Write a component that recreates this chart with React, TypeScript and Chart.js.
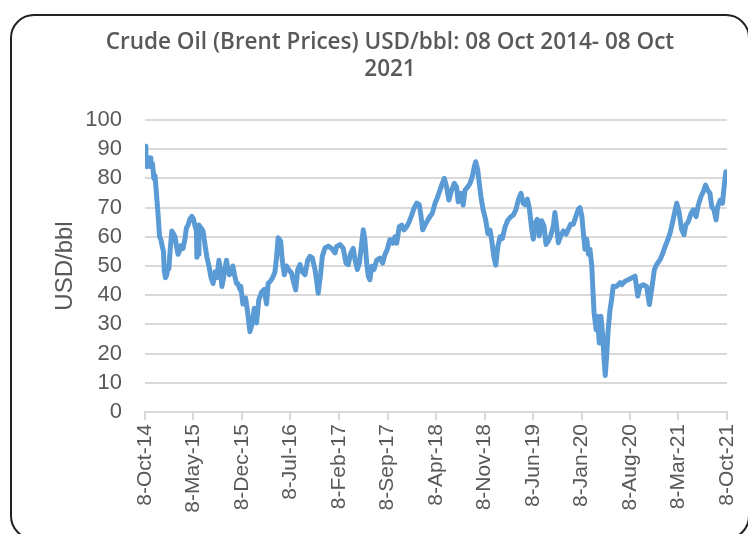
import React, { useEffect, useRef } from 'react';
import { Chart, registerables } from 'chart.js';

Chart.register(...registerables);

const TITLE_LINES = ['Crude Oil (Brent Prices) USD/bbl: 08 Oct 2014- 08 Oct', '2021'];
const Y_TITLE = 'USD/bbl';
const START_DATE = '2014-10-08';
const END_DATE = '2021-10-08';

const tickDates = [
  '2014-10-08', '2015-05-08', '2015-12-08', '2016-07-08', '2017-02-08', '2017-09-08', '2018-04-08',
  '2018-11-08', '2019-06-08', '2020-01-08', '2020-08-08', '2021-03-08', '2021-10-08',
];
const tickLabels = [
  '8-Oct-14', '8-May-15', '8-Dec-15', '8-Jul-16', '8-Feb-17', '8-Sep-17', '8-Apr-18',
  '8-Nov-18', '8-Jun-19', '8-Jan-20', '8-Aug-20', '8-Mar-21', '8-Oct-21',
];

const dates2014 = ['2014-10-08', '2014-10-12', '2014-10-17', '2014-10-23', '2014-10-30', '2014-11-03', '2014-11-10', '2014-11-16', '2014-11-21', '2014-11-30', '2014-12-06', '2014-12-11', '2014-12-17', '2014-12-22', '2014-12-28'];
const prices2014 = [91, 88, 84, 86, 87, 84, 85, 80, 81, 72, 66, 60, 59, 57, 55];

const dates2015 = ['2015-01-01', '2015-01-06', '2015-01-12', '2015-01-17', '2015-01-21', '2015-01-26', '2015-02-03', '2015-02-10', '2015-02-17', '2015-02-23', '2015-03-02', '2015-03-08', '2015-03-15', '2015-03-24', '2015-04-01', '2015-04-08', '2015-04-15', '2015-04-23', '2015-05-02', '2015-05-09', '2015-05-15', '2015-05-22', '2015-05-24', '2015-05-29', '2015-06-02', '2015-06-11', '2015-06-20', '2015-06-29', '2015-07-07', '2015-07-16', '2015-07-25', '2015-08-03', '2015-08-12', '2015-08-20', '2015-08-29', '2015-09-05', '2015-09-11', '2015-09-18', '2015-09-24', '2015-10-01', '2015-10-07', '2015-10-14', '2015-10-21', '2015-10-29', '2015-11-05', '2015-11-14', '2015-11-20', '2015-11-29', '2015-12-03', '2015-12-12', '2015-12-24'];
const prices2015 = [48, 46, 47, 50, 49, 55, 62, 61, 60, 57, 54, 55, 57, 56, 59, 63, 64, 66, 67, 66, 64, 62, 53, 54, 64, 63, 62, 57, 53, 50, 46, 44, 48, 46, 52, 48, 43, 46, 49, 52, 49, 47, 48, 50, 47, 44, 44, 42, 43, 37, 39];

const dates2016 = ['2016-01-02', '2016-01-12', '2016-01-22', '2016-01-31', '2016-02-10', '2016-02-20', '2016-03-03', '2016-03-15', '2016-03-25', '2016-04-01', '2016-04-13', '2016-04-23', '2016-05-01', '2016-05-08', '2016-05-15', '2016-05-26', '2016-06-02', '2016-06-11', '2016-06-21', '2016-07-01', '2016-07-13', '2016-07-20', '2016-07-31', '2016-08-09', '2016-08-19', '2016-08-29', '2016-09-10', '2016-09-22', '2016-10-02', '2016-10-12', '2016-10-24', '2016-10-31', '2016-11-07', '2016-11-18', '2016-11-25', '2016-12-07', '2016-12-21'];
const prices2016 = [34, 27.5, 30.3, 35.5, 30.5, 38.4, 41, 42, 37, 44, 45, 46.4, 48, 53, 59.7, 58.5, 52, 47, 50, 48.7, 47.6, 45, 41.8, 48.7, 50.5, 48, 47, 52, 53.3, 52.8, 48.7, 45, 40.7, 47.6, 53.3, 56.2, 56.8];

const dates2017 = ['2017-01-05', '2017-01-20', '2017-01-27', '2017-02-11', '2017-02-25', '2017-03-09', '2017-03-19', '2017-03-30', '2017-04-10', '2017-04-18', '2017-04-28', '2017-05-07', '2017-05-17', '2017-05-24', '2017-05-31', '2017-06-08', '2017-06-15', '2017-06-22', '2017-06-30', '2017-07-10', '2017-07-22', '2017-08-05', '2017-08-17', '2017-08-27', '2017-09-06', '2017-09-18', '2017-09-30', '2017-10-10', '2017-10-18', '2017-10-29', '2017-11-09', '2017-11-19', '2017-12-01', '2017-12-12', '2017-12-23'];
const prices2017 = [56, 54.5, 56.7, 57.3, 56, 51, 50.5, 54.4, 56, 52, 48.8, 51, 57.8, 62.4, 59, 51, 46.5, 45.3, 49.9, 48.8, 52, 52.7, 51, 53.9, 55.6, 59, 57.8, 60, 57.8, 63.5, 64, 62.4, 63.5, 65.2, 67.5];

const dates2018 = ['2018-01-02', '2018-01-14', '2018-01-25', '2018-02-01', '2018-02-09', '2018-02-19', '2018-03-03', '2018-03-13', '2018-03-23', '2018-04-04', '2018-04-16', '2018-04-26', '2018-05-06', '2018-05-15', '2018-05-25', '2018-06-04', '2018-06-16', '2018-06-28', '2018-07-08', '2018-07-15', '2018-07-27', '2018-08-06', '2018-08-14', '2018-08-26', '2018-09-05', '2018-09-15', '2018-09-24', '2018-09-30', '2018-10-09', '2018-10-14', '2018-10-23', '2018-11-02', '2018-11-13', '2018-11-22', '2018-12-02', '2018-12-09', '2018-12-19', '2018-12-27'];
const prices2018 = [69.8, 71.5, 71, 67.5, 62.4, 64, 65.7, 67, 68, 71.4, 73.7, 76, 78.3, 80, 77.1, 72.6, 76, 78.3, 77, 72, 74.9, 70.9, 76, 77.1, 78.3, 80.6, 84, 85.7, 82.9, 79.4, 73.7, 69.1, 65.7, 61.1, 62.3, 58.9, 53.1, 50.3];

const dates2019 = ['2019-01-05', '2019-01-15', '2019-01-25', '2019-02-06', '2019-02-18', '2019-03-04', '2019-03-14', '2019-03-25', '2019-04-05', '2019-04-17', '2019-04-27', '2019-05-05', '2019-05-15', '2019-05-24', '2019-06-03', '2019-06-10', '2019-06-17', '2019-06-27', '2019-07-06', '2019-07-17', '2019-07-27', '2019-08-05', '2019-08-15', '2019-08-25', '2019-09-06', '2019-09-13', '2019-09-21', '2019-09-28', '2019-10-08', '2019-10-20', '2019-11-01', '2019-11-11', '2019-11-21', '2019-12-03', '2019-12-15', '2019-12-25'];
const prices2019 = [56.6, 60, 59.4, 63.4, 65.7, 66.9, 67.4, 69.1, 72.6, 74.9, 71.4, 71, 72.9, 69.5, 62.6, 59.2, 64.3, 66, 60.3, 65.5, 63.7, 57.4, 58.6, 60.3, 63.7, 68.3, 63.2, 58, 60.3, 62, 60.9, 62.6, 64.3, 64.3, 67.2, 69.5];

const dates2020 = ['2020-01-01', '2020-01-09', '2020-01-16', '2020-01-23', '2020-01-31', '2020-02-07', '2020-02-14', '2020-02-22', '2020-02-26', '2020-03-03', '2020-03-12', '2020-03-17', '2020-03-26', '2020-04-02', '2020-04-10', '2020-04-16', '2020-04-21', '2020-04-27', '2020-05-04', '2020-05-12', '2020-05-19', '2020-05-26', '2020-06-10', '2020-06-25', '2020-07-02', '2020-07-17', '2020-07-31', '2020-08-15', '2020-08-30', '2020-09-11', '2020-09-21', '2020-10-05', '2020-10-20', '2020-11-01', '2020-11-11', '2020-11-23', '2020-12-03', '2020-12-18', '2020-12-30'];
const prices2020 = [70, 67.2, 61.4, 55.7, 59.2, 54, 55.7, 50, 43.1, 34, 28.2, 32.8, 23.6, 32.8, 26, 18, 12.5, 19, 28.2, 35, 38.5, 43.1, 43, 44.3, 43.6, 44.8, 45.3, 45.9, 46.5, 39.7, 43, 43.6, 43, 36.8, 42, 48.8, 50.5, 52.2, 54.4];

const dates2021 = ['2021-01-09', '2021-01-21', '2021-01-31', '2021-02-10', '2021-02-19', '2021-03-01', '2021-03-11', '2021-03-23', '2021-04-02', '2021-04-10', '2021-04-21', '2021-05-03', '2021-05-13', '2021-05-25', '2021-06-04', '2021-06-16', '2021-06-26', '2021-07-06', '2021-07-15', '2021-07-25', '2021-08-02', '2021-08-12', '2021-08-21', '2021-08-28', '2021-09-08', '2021-09-18', '2021-09-27', '2021-10-03', '2021-10-08'];
const prices2021 = [56.7, 59, 61.3, 64.7, 68, 71.5, 68.6, 62.4, 60.7, 64, 65.2, 68, 69.2, 66.9, 70.9, 73.8, 75.5, 77.7, 76, 74.9, 70.3, 69.2, 65.8, 70.3, 72.6, 71.5, 78.3, 82.3, 81.5];

const Y_MIN = 0;
const Y_MAX = 100;
const Y_STEP = 10;

const DAY_MS = 86400000;
const dayOf = (d: string) => Math.round((Date.parse(d) - Date.parse(START_DATE)) / DAY_MS);

const allDates = [...dates2014, ...dates2015, ...dates2016, ...dates2017, ...dates2018, ...dates2019, ...dates2020, ...dates2021];
const allPrices = [...prices2014, ...prices2015, ...prices2016, ...prices2017, ...prices2018, ...prices2019, ...prices2020, ...prices2021];
const points = allDates.map((d, i) => ({ x: dayOf(d), y: allPrices[i] }));
const tickDays = tickDates.map(dayOf);

const W = 748;
const H = 534;
const PLOT_LEFT = 145;
const PLOT_RIGHT = 727;
const PLOT_BOTTOM = 412;
const PAD = { left: 53, right: W - PLOT_RIGHT, top: 14, bottom: 0 };
const GRAY = '#595959';
const GRID = '#d9d9d9';
const BLUE = '#5B9BD5';

export default function App() {
  const ref = useRef<HTMLCanvasElement | null>(null);

  useEffect(() => {
    if (!ref.current) return;
    const chart = new Chart(ref.current, {
      type: 'line',
      data: {
        datasets: [
          {
            label: 'Brent',
            data: points,
            borderColor: BLUE,
            backgroundColor: BLUE,
            borderWidth: 5,
            pointRadius: 0,
            tension: 0,
            borderJoinStyle: 'round',
            borderCapStyle: 'round',
          },
        ],
      },
      options: {
        animation: false,
        responsive: false,
        maintainAspectRatio: false,
        layout: { padding: PAD },
        plugins: {
          legend: { display: false },
          tooltip: { enabled: false },
          title: {
            display: true,
            text: TITLE_LINES,
            color: GRAY,
            font: { family: 'Open Sans', size: 22.5, weight: '600', lineHeight: 27 / 22.5 },
            padding: { top: 15.5, bottom: 36.5 },
          },
        },
        scales: {
          x: {
            type: 'linear',
            min: 0,
            max: dayOf(END_DATE),
            afterBuildTicks: (axis: any) => {
              axis.ticks = tickDays.map((v) => ({ value: v }));
            },
            afterFit: (axis: any) => {
              axis.height = H - PLOT_BOTTOM - PAD.bottom;
              axis.paddingLeft = 0;
              axis.paddingRight = 0;
            },
            grid: {
              drawOnChartArea: false,
              drawTicks: true,
              tickLength: 8,
              color: GRID,
              lineWidth: 2,
            },
            border: { display: true, color: GRID, width: 2 },
            ticks: {
              autoSkip: false,
              minRotation: 90,
              maxRotation: 90,
              padding: 4,
              color: GRAY,
              font: { family: 'Liberation Sans', size: 21 },
              callback: (value: any) => {
                const i = tickDays.indexOf(Number(value));
                return i >= 0 ? tickLabels[i] : '';
              },
            },
          },
          y: {
            min: Y_MIN,
            max: Y_MAX,
            afterFit: (axis: any) => {
              axis.width = PLOT_LEFT - PAD.left;
            },
            grid: { color: GRID, lineWidth: 2, drawTicks: false },
            border: { display: false },
            ticks: {
              stepSize: Y_STEP,
              autoSkip: false,
              padding: 23,
              color: GRAY,
              font: { family: 'Liberation Sans', size: 22 },
            },
            title: {
              display: true,
              text: Y_TITLE,
              color: GRAY,
              font: { family: 'Liberation Sans', size: 24, lineHeight: 1 },
              padding: { top: 0, bottom: 0 },
            },
          },
        },
      },
    });
    return () => chart.destroy();
  }, []);

  return (
    <div style={{ position: 'fixed', left: 0, top: 0, width: W, height: H, background: '#fff', overflow: 'hidden' }}>
      <div
        style={{
          position: 'absolute',
          left: 10,
          top: 14,
          width: 740,
          height: 526,
          boxSizing: 'border-box',
          border: '2px solid #222',
          borderRadius: 24,
        }}
      />
      <canvas ref={ref} width={W} height={H} style={{ position: 'absolute', left: 0, top: 0, width: W, height: H }} />
    </div>
  );
}
